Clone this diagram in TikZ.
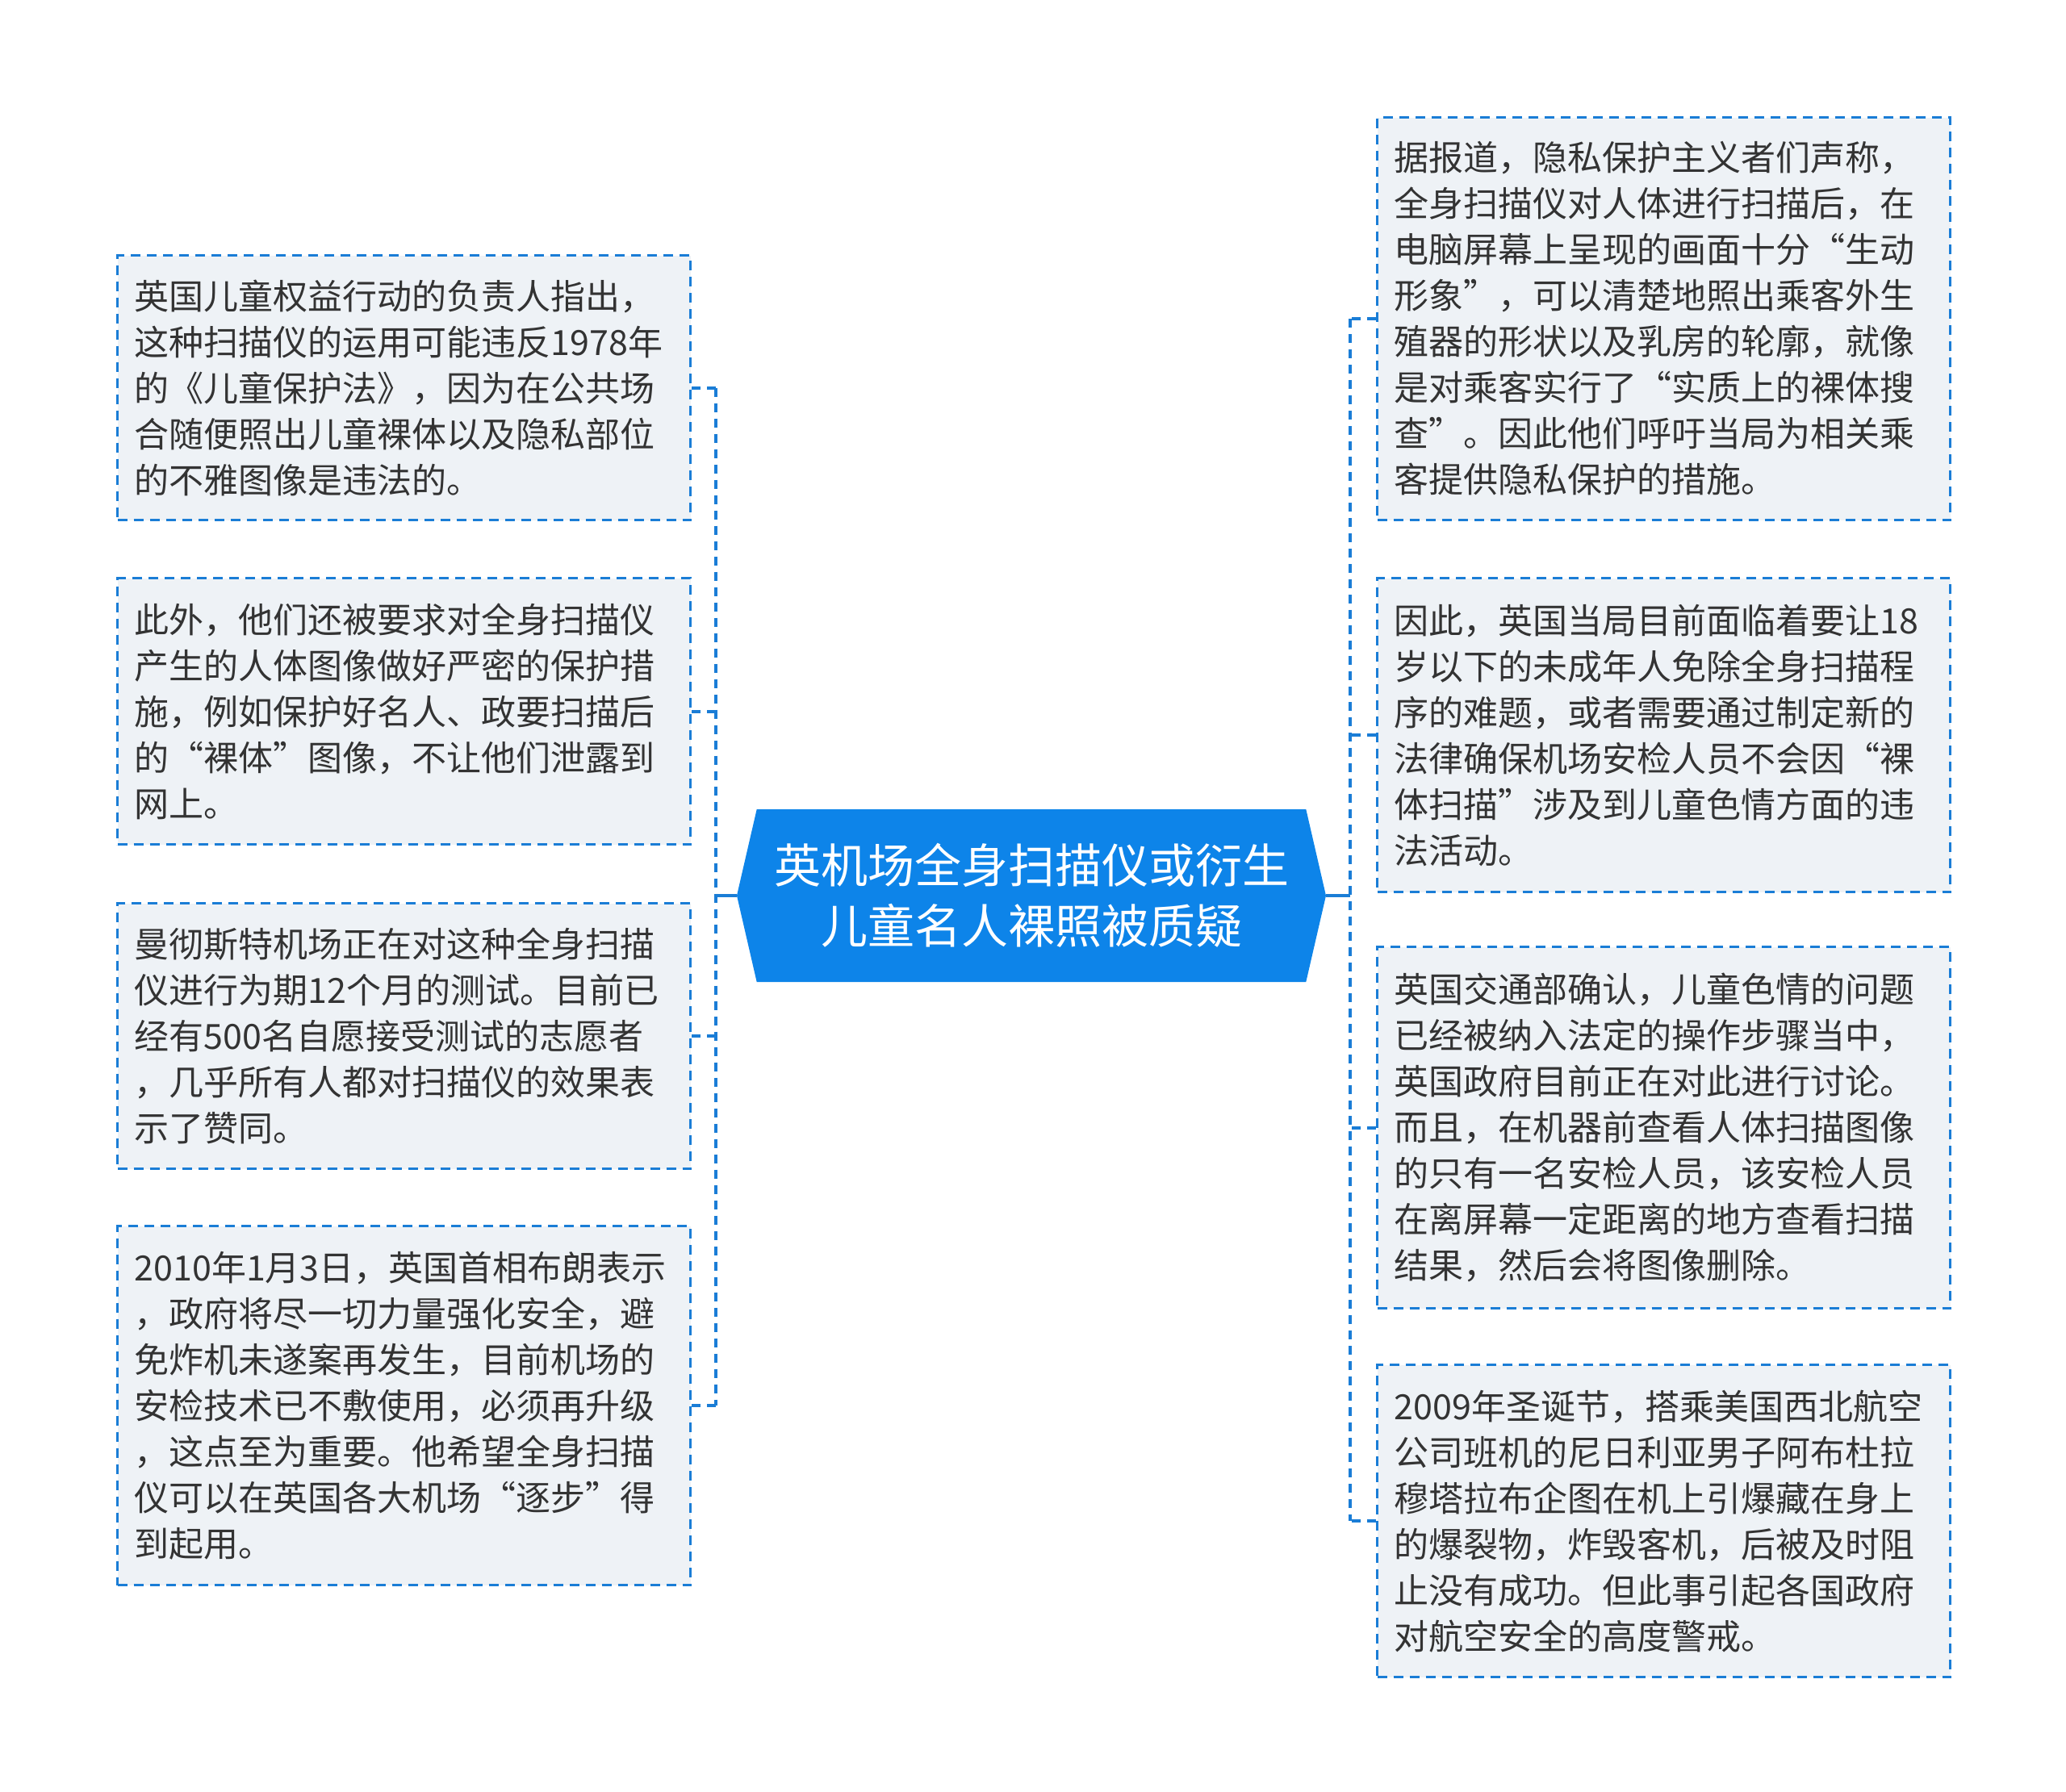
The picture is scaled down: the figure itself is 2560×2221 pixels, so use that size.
\documentclass[tikz,border=0pt]{standalone}
\usepackage{fontspec}
\setmainfont{Noto Sans CJK SC}
\usetikzlibrary{shapes.symbols}
\definecolor{topicblue}{HTML}{0D84E9}
\definecolor{linkblue}{HTML}{1A7DD6}
\definecolor{boxfill}{HTML}{EEF2F6}
\definecolor{textgray}{HTML}{333333}

\begin{document}
\begin{tikzpicture}[x=1pt,y=-1pt,
    leaf/.style={draw=linkblue, line width=3.2pt, dash pattern=on 12pt off 8pt,
      fill=boxfill, anchor=north west, inner xsep=21pt, inner ysep=0pt,
      text width=668pt, align=left, text=textgray,
      font=\fontsize{43}{57}\selectfont},
    link/.style={linkblue, line width=3.8pt, dash pattern=on 11pt off 8pt},
    topic/.style={signal, signal to=west and east, signal pointer angle=154,
      fill=topicblue, text=white, align=center, inner sep=0pt,
      minimum width=730pt, minimum height=214pt,
      font=\fontsize{58}{75}\selectfont}]
    \useasboundingbox (0,0) rectangle (2560,2221);

    % Central topic
    \node[topic] (title) at (1278,1110) {英机场全身扫描仪或衍生\\儿童名人裸照被质疑};

    % Left branches
    \node[leaf, minimum height=328pt] (l1) at (144,315) {英国儿童权益行动的负责人指出，\\这种扫描仪的运用可能违反1978年\\的《儿童保护法》，因为在公共场\\合随便照出儿童裸体以及隐私部位\\的不雅图像是违法的。};
    \node[leaf, minimum height=330pt] (l2) at (144,715) {此外，他们还被要求对全身扫描仪\\产生的人体图像做好严密的保护措\\施，例如保护好名人、政要扫描后\\的“裸体”图像，不让他们泄露到\\网上。};
    \node[leaf, minimum height=329pt] (l3) at (144,1118) {曼彻斯特机场正在对这种全身扫描\\仪进行为期12个月的测试。目前已\\经有500名自愿接受测试的志愿者\\，几乎所有人都对扫描仪的效果表\\示了赞同。};
    \node[leaf, minimum height=445pt] (l4) at (144,1518) {2010年1月3日，英国首相布朗表示\\，政府将尽一切力量强化安全，避\\免炸机未遂案再发生，目前机场的\\安检技术已不敷使用，必须再升级\\，这点至为重要。他希望全身扫描\\仪可以在英国各大机场“逐步”得\\到起用。};

    % Right branches
    \node[leaf, minimum height=499pt] (r1) at (1705,144) {据报道，隐私保护主义者们声称，\\全身扫描仪对人体进行扫描后，在\\电脑屏幕上呈现的画面十分“生动\\形象”，可以清楚地照出乘客外生\\殖器的形状以及乳房的轮廓，就像\\是对乘客实行了“实质上的裸体搜\\查”。因此他们呼吁当局为相关乘\\客提供隐私保护的措施。};
    \node[leaf, minimum height=389pt] (r2) at (1705,715) {因此，英国当局目前面临着要让18\\岁以下的未成年人免除全身扫描程\\序的难题，或者需要通过制定新的\\法律确保机场安检人员不会因“裸\\体扫描”涉及到儿童色情方面的违\\法活动。};
    \node[leaf, minimum height=448pt] (r3) at (1705,1172) {英国交通部确认，儿童色情的问题\\已经被纳入法定的操作步骤当中，\\英国政府目前正在对此进行讨论。\\而且，在机器前查看人体扫描图像\\的只有一名安检人员，该安检人员\\在离屏幕一定距离的地方查看扫描\\结果，然后会将图像删除。};
    \node[leaf, minimum height=387pt] (r4) at (1705,1690) {2009年圣诞节，搭乘美国西北航空\\公司班机的尼日利亚男子阿布杜拉\\穆塔拉布企图在机上引爆藏在身上\\的爆裂物，炸毁客机，后被及时阻\\止没有成功。但此事引起各国政府\\对航空安全的高度警戒。};

    % Left connectors
    \coordinate (ltrunk) at (887,1110);
    \draw[linkblue, line width=3.8pt] (title.west) -- (ltrunk);
    \draw[link] (l1.east -| ltrunk) -- (l4.east -| ltrunk);
    \draw[link] (l1.east) -- (l1.east -| ltrunk);
    \draw[link] (l2.east) -- (l2.east -| ltrunk);
    \draw[link] (l3.east) -- (l3.east -| ltrunk);
    \draw[link] (l4.east) -- (l4.east -| ltrunk);

    % Right connectors
    \coordinate (rtrunk) at (1673,1110);
    \draw[linkblue, line width=3.8pt] (title.east) -- (rtrunk);
    \draw[link] (r1.west -| rtrunk) -- (r4.west -| rtrunk);
    \draw[link] (r1.west) -- (r1.west -| rtrunk);
    \draw[link] (r2.west) -- (r2.west -| rtrunk);
    \draw[link] (r3.west) -- (r3.west -| rtrunk);
    \draw[link] (r4.west) -- (r4.west -| rtrunk);
\end{tikzpicture}
\end{document}
